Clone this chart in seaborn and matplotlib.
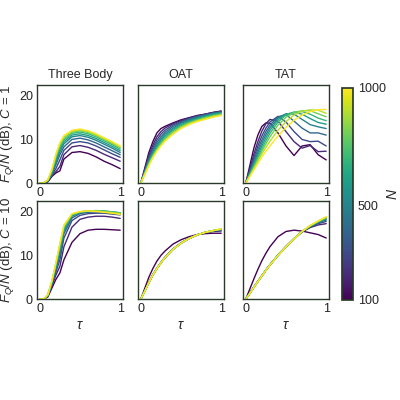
import numpy as np
import matplotlib
matplotlib.use("Agg")
import matplotlib.pyplot as plt
import seaborn as sns

sns.set_theme(style="white")
plt.rcParams['font.family'] = ['Liberation Sans', 'DejaVu Sans']
plt.rcParams['mathtext.fontset'] = 'custom'
plt.rcParams['mathtext.it'] = 'Liberation Sans:italic'
plt.rcParams['mathtext.rm'] = 'Liberation Sans'

tau = [0, 0.05, 0.1, 0.15, 0.2, 0.25, 0.3, 0.4, 0.5, 0.6, 0.7, 0.8, 0.9, 1.0]
n_values = [100, 200, 300, 400, 500, 600, 700, 800, 900, 1000]

# Three Body, C = 1
tb_c1 = [
    [0, 0, 0.3, 1.5, 2.3, 2.8, 5.5, 7.0, 7.2, 6.8, 6.0, 5.0, 4.2, 3.3],
    [0, 0, 0.3, 1.6, 2.6, 3.8, 6.5, 8.3, 8.6, 8.2, 7.5, 6.6, 5.8, 5.0],
    [0, 0, 0.4, 1.8, 3.3, 5.3, 7.5, 9.2, 9.5, 9.2, 8.5, 7.6, 6.7, 5.9],
    [0, 0, 0.5, 2.0, 4.2, 6.5, 8.3, 10.0, 10.3, 9.9, 9.2, 8.3, 7.4, 6.5],
    [0, 0, 0.5, 2.2, 4.8, 7.2, 9.0, 10.6, 10.9, 10.5, 9.8, 8.9, 8.0, 7.0],
    [0, 0, 0.6, 2.4, 5.3, 7.8, 9.5, 11.0, 11.3, 10.9, 10.2, 9.3, 8.4, 7.4],
    [0, 0, 0.6, 2.6, 5.7, 8.3, 9.9, 11.4, 11.7, 11.3, 10.6, 9.7, 8.8, 7.8],
    [0, 0, 0.7, 2.8, 6.1, 8.7, 10.3, 11.7, 12.0, 11.6, 10.9, 10.0, 9.1, 8.1],
    [0, 0, 0.7, 3.0, 6.4, 9.0, 10.6, 11.9, 12.2, 11.8, 11.1, 10.2, 9.3, 8.3],
    [0, 0, 0.8, 3.2, 6.7, 9.3, 10.9, 12.1, 12.4, 12.0, 11.3, 10.4, 9.5, 8.5],
]
# OAT, C = 1
oat_c1 = [
    [0, 3.5, 7.0, 9.5, 11.5, 12.5, 13.0, 13.8, 14.5, 15.0, 15.5, 15.8, 16.2, 16.5],
    [0, 3.1, 6.3, 8.7, 10.6, 11.8, 12.6, 13.6, 14.3, 14.9, 15.4, 15.8, 16.2, 16.5],
    [0, 2.9, 5.9, 8.1, 9.9, 11.2, 12.1, 13.3, 14.1, 14.8, 15.3, 15.7, 16.1, 16.4],
    [0, 2.7, 5.5, 7.6, 9.3, 10.6, 11.6, 13.0, 13.9, 14.6, 15.2, 15.6, 16.0, 16.3],
    [0, 2.5, 5.2, 7.2, 8.8, 10.1, 11.2, 12.6, 13.7, 14.4, 15.0, 15.5, 15.9, 16.2],
    [0, 2.4, 4.9, 6.8, 8.4, 9.7, 10.8, 12.3, 13.4, 14.2, 14.8, 15.3, 15.8, 16.1],
    [0, 2.3, 4.6, 6.5, 8.0, 9.3, 10.4, 12.0, 13.2, 14.0, 14.6, 15.1, 15.6, 15.9],
    [0, 2.2, 4.4, 6.2, 7.7, 9.0, 10.1, 11.7, 12.9, 13.8, 14.4, 15.0, 15.4, 15.8],
    [0, 2.1, 4.2, 6.0, 7.5, 8.7, 9.8, 11.4, 12.7, 13.6, 14.3, 14.8, 15.3, 15.6],
    [0, 2.0, 4.0, 5.8, 7.3, 8.5, 9.6, 11.2, 12.5, 13.4, 14.1, 14.6, 15.1, 15.5],
]
# TAT, C = 1
tat_c1 = [
    [0, 4.0, 8.0, 11.0, 13.0, 13.8, 13.7, 11.5, 8.5, 6.3, 8.5, 8.8, 6.5, 5.3],
    [0, 3.3, 6.6, 9.5, 11.9, 13.6, 14.6, 14.2, 11.8, 9.5, 8.0, 8.6, 7.2, 7.3],
    [0, 2.9, 5.8, 8.5, 10.8, 12.6, 14.0, 15.3, 14.0, 11.8, 10.0, 9.5, 9.6, 8.5],
    [0, 2.6, 5.2, 7.7, 9.9, 11.8, 13.3, 15.2, 15.7, 14.2, 12.6, 11.5, 11.5, 11.0],
    [0, 2.3, 4.7, 7.0, 9.2, 11.1, 12.7, 14.9, 15.9, 15.8, 14.6, 13.4, 12.9, 12.5],
    [0, 2.1, 4.3, 6.4, 8.5, 10.4, 12.1, 14.5, 15.8, 16.2, 15.8, 14.8, 13.9, 13.5],
    [0, 1.9, 3.9, 5.9, 7.9, 9.7, 11.4, 14.0, 15.6, 16.3, 16.4, 15.8, 14.9, 14.3],
    [0, 1.8, 3.6, 5.4, 7.3, 9.0, 10.6, 13.3, 15.1, 16.2, 16.6, 16.6, 15.9, 15.2],
    [0, 1.6, 3.3, 5.0, 6.7, 8.2, 9.6, 12.1, 14.1, 15.6, 16.5, 16.8, 16.7, 16.0],
    [0, 1.5, 3.0, 4.5, 6.0, 7.3, 8.5, 10.8, 12.8, 14.4, 15.6, 16.4, 16.8, 16.9],
]
# Three Body, C = 10
tb_c10 = [
    [0, 0, 0.5, 2.5, 4.5, 6.0, 9.0, 13.0, 15.0, 15.8, 16.0, 16.0, 15.9, 15.8],
    [0, 0, 0.6, 3.0, 5.5, 7.5, 12.0, 16.5, 18.3, 18.8, 19.0, 19.0, 18.8, 18.5],
    [0, 0, 0.7, 3.3, 6.2, 9.0, 14.0, 18.0, 19.2, 19.6, 19.7, 19.7, 19.5, 19.3],
    [0, 0, 0.8, 3.5, 6.8, 10.0, 15.0, 18.6, 19.6, 19.9, 20.0, 19.9, 19.7, 19.5],
    [0, 0, 0.8, 3.7, 7.2, 10.8, 15.6, 19.0, 19.8, 20.1, 20.2, 20.1, 19.9, 19.7],
    [0, 0, 0.9, 3.8, 7.5, 11.4, 16.0, 19.2, 20.0, 20.2, 20.3, 20.2, 20.0, 19.8],
    [0, 0, 0.9, 3.9, 7.8, 11.9, 16.3, 19.3, 20.0, 20.2, 20.3, 20.2, 20.0, 19.8],
    [0, 0, 1.0, 4.0, 8.0, 12.3, 16.6, 19.4, 20.0, 20.2, 20.2, 20.1, 19.9, 19.7],
    [0, 0, 1.0, 4.1, 8.2, 12.6, 16.8, 19.5, 20.0, 20.2, 20.2, 20.0, 19.8, 19.6],
    [0, 0, 1.0, 4.2, 8.4, 12.9, 17.0, 19.6, 20.1, 20.2, 20.1, 19.9, 19.7, 19.4],
]
# OAT, C = 10
oat_c10 = [
    [0, 2.5, 5.0, 7.0, 8.7, 10.0, 11.0, 12.6, 13.6, 14.3, 14.8, 15.0, 15.1, 15.1],
    [0, 1.9, 3.9, 5.6, 7.1, 8.4, 9.6, 11.5, 12.9, 13.9, 14.7, 15.2, 15.5, 15.6],
    [0, 1.9, 3.8, 5.5, 7.0, 8.3, 9.5, 11.4, 12.8, 13.9, 14.7, 15.3, 15.6, 15.8],
    [0, 1.8, 3.8, 5.5, 7.0, 8.3, 9.5, 11.4, 12.8, 13.9, 14.7, 15.3, 15.7, 15.9],
    [0, 1.8, 3.8, 5.5, 7.0, 8.3, 9.5, 11.4, 12.8, 13.9, 14.7, 15.3, 15.7, 15.9],
    [0, 1.8, 3.8, 5.5, 7.0, 8.3, 9.5, 11.4, 12.8, 13.9, 14.7, 15.3, 15.7, 16.0],
    [0, 1.8, 3.8, 5.5, 7.0, 8.3, 9.5, 11.4, 12.8, 13.9, 14.7, 15.3, 15.7, 16.0],
    [0, 1.8, 3.8, 5.5, 7.0, 8.3, 9.5, 11.4, 12.8, 13.9, 14.7, 15.3, 15.7, 16.0],
    [0, 1.8, 3.8, 5.5, 7.0, 8.3, 9.5, 11.4, 12.8, 13.9, 14.7, 15.3, 15.7, 16.1],
    [0, 1.8, 3.8, 5.5, 7.0, 8.3, 9.5, 11.4, 12.8, 13.9, 14.7, 15.3, 15.7, 16.1],
]
# TAT, C = 10
tat_c10 = [
    [0, 2.3, 4.6, 6.8, 8.8, 10.5, 12.0, 14.3, 15.5, 15.8, 15.6, 15.2, 14.8, 14.0],
    [0, 1.4, 2.8, 4.1, 5.4, 6.7, 7.9, 10.1, 12.1, 13.9, 15.4, 16.4, 17.0, 17.3],
    [0, 1.3, 2.7, 4.0, 5.3, 6.6, 7.8, 10.0, 12.0, 13.8, 15.4, 16.5, 17.3, 17.8],
    [0, 1.3, 2.7, 4.0, 5.3, 6.6, 7.8, 10.0, 12.0, 13.8, 15.5, 16.6, 17.5, 18.1],
    [0, 1.3, 2.7, 4.0, 5.3, 6.6, 7.8, 10.0, 12.0, 13.8, 15.5, 16.7, 17.6, 18.3],
    [0, 1.3, 2.7, 4.0, 5.3, 6.6, 7.8, 10.0, 12.0, 13.8, 15.5, 16.7, 17.7, 18.5],
    [0, 1.3, 2.7, 4.0, 5.3, 6.6, 7.8, 10.0, 12.0, 13.8, 15.5, 16.8, 17.8, 18.6],
    [0, 1.3, 2.7, 4.0, 5.3, 6.6, 7.8, 10.0, 12.0, 13.8, 15.5, 16.8, 17.8, 18.7],
    [0, 1.3, 2.7, 4.0, 5.3, 6.6, 7.8, 10.0, 12.0, 13.8, 15.5, 16.8, 17.9, 18.8],
    [0, 1.3, 2.7, 4.0, 5.3, 6.6, 7.8, 10.0, 12.0, 13.8, 15.5, 16.9, 17.9, 18.9],
]

titles = ['Three Body', 'OAT', 'TAT']
panels = [[tb_c1, oat_c1, tat_c1], [tb_c10, oat_c10, tat_c10]]
row_labels = [r'$F_Q/N$ (dB), $C$ = 1', r'$F_Q/N$ (dB), $C$ = 10']

spine_col = '#2a3a2a'
cmap = plt.get_cmap('viridis')
norm = matplotlib.colors.Normalize(vmin=100, vmax=1000)

fig = plt.figure(figsize=(4, 4), dpi=100)
lefts = [0.0925, 0.345, 0.6075]
bottoms = [0.5425, 0.2525]
w, h = 0.215, 0.245

for r in range(2):
    for c in range(3):
        ax = fig.add_axes([lefts[c], bottoms[r], w, h])
        for n, ys in zip(n_values, panels[r][c]):
            sns.lineplot(x=tau, y=ys, ax=ax, color=cmap(norm(n)), linewidth=1.0)
        ax.set_xlim(-0.035, 1.035)
        ax.set_ylim(0, 22.5)
        ax.set_xticks([0, 1])
        ax.set_xticklabels(['0', '1'])
        ax.set_yticks([0, 10, 20])
        ax.tick_params(direction='in', length=3, width=0.8, color='#777777',
                       labelsize=9, pad=3, colors='#222222')
        for s in ax.spines.values():
            s.set_color(spine_col)
            s.set_linewidth(1.0)
        if c == 0:
            ax.set_ylabel(row_labels[r], fontsize=9.5, labelpad=2)
        else:
            ax.set_yticklabels([])
        if r == 0:
            ax.set_title(titles[c], fontsize=9, pad=5)
        else:
            ax.set_xlabel(r'$\tau$', fontsize=10, labelpad=2)

cax = fig.add_axes([0.855, 0.25, 0.0275, 0.53])
sm = matplotlib.cm.ScalarMappable(norm=norm, cmap=cmap)
cb = fig.colorbar(sm, cax=cax, ticks=[100, 500, 1000])
cb.ax.tick_params(labelsize=9, length=0)
cb.outline.set_edgecolor(spine_col)
cb.set_label(r'$N$', fontsize=10, labelpad=0)

fig.savefig('out.png', dpi=100)
